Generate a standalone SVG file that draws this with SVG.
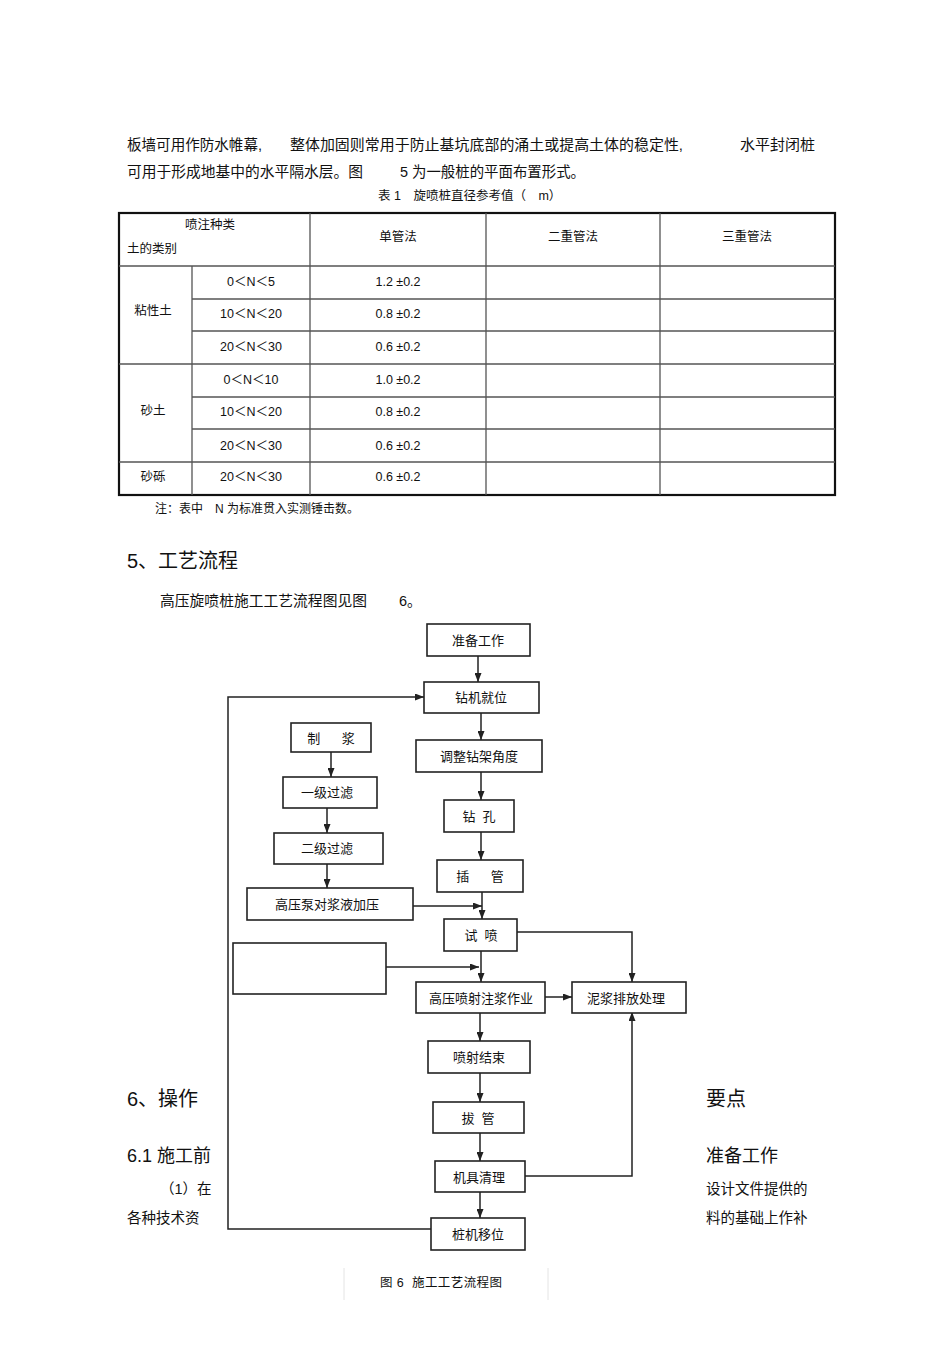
<svg xmlns="http://www.w3.org/2000/svg" width="950" height="1345" viewBox="0 0 950 1345" xml:space="preserve">
<defs>
<style>
text{font-family:"Liberation Sans","Noto Sans CJK SC",sans-serif;fill:#111;dominant-baseline:central;white-space:pre}
.p{font-size:14.5px}
.t{font-size:12.5px;text-anchor:middle}
.h{font-size:20px}
.h2{font-size:18px}
.b{font-size:13px;text-anchor:middle}
.box{fill:#fff;stroke:#222;stroke-width:1.6}
.grid{stroke:#555;stroke-width:1.3;fill:none}
.con{stroke:#222;stroke-width:1.5;fill:none}
</style>
<marker id="ah" viewBox="0 0 9 7" refX="9" refY="3.5" markerWidth="9" markerHeight="7" markerUnits="userSpaceOnUse" orient="auto">
<path d="M0,0 L9,3.5 L0,7 z" fill="#222"/>
</marker>
</defs>
<rect width="950" height="1345" fill="#fff"/>

<g id="intro">
<text class="p" x="127" y="145" textLength="135" lengthAdjust="spacingAndGlyphs">板墙可用作防水帷幕,</text>
<text class="p" x="290" y="145" textLength="393" lengthAdjust="spacingAndGlyphs">整体加固则常用于防止基坑底部的涌土或提高土体的稳定性,</text>
<text class="p" x="740" y="145" textLength="75" lengthAdjust="spacingAndGlyphs">水平封闭桩</text>
<text class="p" x="127" y="172" textLength="236" lengthAdjust="spacingAndGlyphs">可用于形成地基中的水平隔水层。图</text>
<text class="p" x="400" y="172" textLength="185" lengthAdjust="spacingAndGlyphs">5 为一般桩的平面布置形式。</text>
<text style="font-size:12.5px" x="378" y="196">表 1　旋喷桩直径参考值（　m）</text>
</g>

<g id="table">
<rect x="119" y="213" width="716" height="282" fill="none" stroke="#111" stroke-width="2.2"/>
<path class="grid" d="M119 266H835M192 299H835M192 331H835M119 364H835M192 397H835M192 429H835M119 462H835M192 266V495M310 213V495M486 213V495M660 213V495"/>
<text class="t" x="210" y="225">喷注种类</text>
<text style="font-size:12.5px" x="127" y="249">土的类别</text>
<text class="t" x="398" y="237">单管法</text>
<text class="t" x="573" y="237">二重管法</text>
<text class="t" x="747" y="237">三重管法</text>
<text class="t" x="153" y="311">粘性土</text>
<text class="t" x="153" y="411">砂土</text>
<text class="t" x="153" y="477">砂砾</text>
<text class="t" x="251" y="282">0＜N＜5</text>
<text class="t" x="251" y="314">10＜N＜20</text>
<text class="t" x="251" y="347">20＜N＜30</text>
<text class="t" x="251" y="380">0＜N＜10</text>
<text class="t" x="251" y="412">10＜N＜20</text>
<text class="t" x="251" y="446">20＜N＜30</text>
<text class="t" x="251" y="477">20＜N＜30</text>
<text class="t" x="398" y="282">1.2 ±0.2</text>
<text class="t" x="398" y="314">0.8 ±0.2</text>
<text class="t" x="398" y="347">0.6 ±0.2</text>
<text class="t" x="398" y="380">1.0 ±0.2</text>
<text class="t" x="398" y="412">0.8 ±0.2</text>
<text class="t" x="398" y="446">0.6 ±0.2</text>
<text class="t" x="398" y="477">0.6 ±0.2</text>
<text style="font-size:12px" x="155" y="509">注：表中　N 为标准贯入实测锤击数。</text>
</g>

<g id="section5">
<text class="h" x="127" y="561">5、工艺流程</text>
<text class="p" x="160" y="601" textLength="207" lengthAdjust="spacingAndGlyphs">高压旋喷桩施工工艺流程图见图</text>
<text class="p" x="399" y="601">6。</text>
</g>

<g id="section6">
<text class="h" x="127" y="1099">6、操作</text>
<text class="h" x="706" y="1099">要点</text>
<text class="h2" x="127" y="1156">6.1 施工前</text>
<text class="h2" x="706" y="1156">准备工作</text>
<text class="p" x="160" y="1189">（1）在</text>
<text class="p" x="706" y="1189">设计文件提供的</text>
<text class="p" x="127" y="1218">各种技术资</text>
<text class="p" x="706" y="1218">料的基础上作补</text>
</g>

<g id="connectors">
<path class="con" marker-end="url(#ah)" d="M478 656V682"/>
<path class="con" marker-end="url(#ah)" d="M481 713V740"/>
<path class="con" marker-end="url(#ah)" d="M481 772V800"/>
<path class="con" marker-end="url(#ah)" d="M481 832V860"/>
<path class="con" marker-end="url(#ah)" d="M482 892V919"/>
<path class="con" marker-end="url(#ah)" d="M413 906H482"/>
<path class="con" marker-end="url(#ah)" d="M481 951V982"/>
<path class="con" marker-end="url(#ah)" d="M386 967H479"/>
<path class="con" marker-end="url(#ah)" d="M517 932H632V982"/>
<path class="con" marker-end="url(#ah)" d="M545 997H572"/>
<path class="con" marker-end="url(#ah)" d="M480 1012V1041"/>
<path class="con" marker-end="url(#ah)" d="M480 1073V1102"/>
<path class="con" marker-end="url(#ah)" d="M480 1133V1161"/>
<path class="con" marker-end="url(#ah)" d="M480 1192V1218"/>
<path class="con" marker-end="url(#ah)" d="M525 1176H632V1012"/>
<path class="con" marker-end="url(#ah)" d="M431 1229H228V697H424"/>
<path class="con" marker-end="url(#ah)" d="M331 752V777"/>
<path class="con" marker-end="url(#ah)" d="M327 808V833"/>
<path class="con" marker-end="url(#ah)" d="M327 864V888"/>
</g>

<g id="n-zhunbei"><rect class="box" x="427" y="624" width="103" height="32"/><text class="b" x="478" y="640">准备工作</text></g>
<g id="n-zuanji"><rect class="box" x="424" y="682" width="115" height="31"/><text class="b" x="481" y="697">钻机就位</text></g>
<g id="n-tiaozheng"><rect class="box" x="416" y="740" width="126" height="32"/><text class="b" x="479" y="756">调整钻架角度</text></g>
<g id="n-zuankong"><rect class="box" x="444" y="800" width="70" height="32"/><text class="b" x="479" y="816">钻  孔</text></g>
<g id="n-chaguan"><rect class="box" x="437" y="860" width="86" height="32"/><text class="b" x="480" y="876">插      管</text></g>
<g id="n-shipen"><rect class="box" x="444" y="919" width="73" height="32"/><text class="b" x="481" y="935">试  喷</text></g>
<g id="n-gaoya"><rect class="box" x="416" y="982" width="129" height="31"/><text class="b" x="481" y="998">高压喷射注浆作业</text></g>
<g id="n-nijiang"><rect class="box" x="572" y="982" width="114" height="31"/><text class="b" x="626" y="998">泥浆排放处理</text></g>
<g id="n-empty"><rect class="box" x="233" y="943" width="153" height="51"/></g>
<g id="n-beng"><rect class="box" x="247" y="888" width="166" height="32"/><text class="b" x="327" y="904">高压泵对浆液加压</text></g>
<g id="n-erji"><rect class="box" x="274" y="833" width="109" height="31"/><text class="b" x="327" y="848">二级过滤</text></g>
<g id="n-yiji"><rect class="box" x="283" y="777" width="94" height="31"/><text class="b" x="327" y="792">一级过滤</text></g>
<g id="n-zhijiang"><rect class="box" x="291" y="723" width="80" height="29"/><text class="b" x="331" y="738">制      浆</text></g>
<g id="n-jieshu"><rect class="box" x="428" y="1041" width="102" height="32"/><text class="b" x="479" y="1057">喷射结束</text></g>
<g id="n-baguan"><rect class="box" x="433" y="1102" width="91" height="31"/><text class="b" x="478" y="1118">拔  管</text></g>
<g id="n-qingli"><rect class="box" x="435" y="1161" width="90" height="31"/><text class="b" x="479" y="1177">机具清理</text></g>
<g id="n-yiwei"><rect class="box" x="431" y="1218" width="94" height="32"/><text class="b" x="478" y="1234">桩机移位</text></g>

<g id="caption">
<path d="M344 1268V1300M548 1268V1300" stroke="#e4e4e4" stroke-width="1"/>
<text style="font-size:12.5px" x="380" y="1283" textLength="122" lengthAdjust="spacing">图 6  施工工艺流程图</text>
</g>
</svg>
